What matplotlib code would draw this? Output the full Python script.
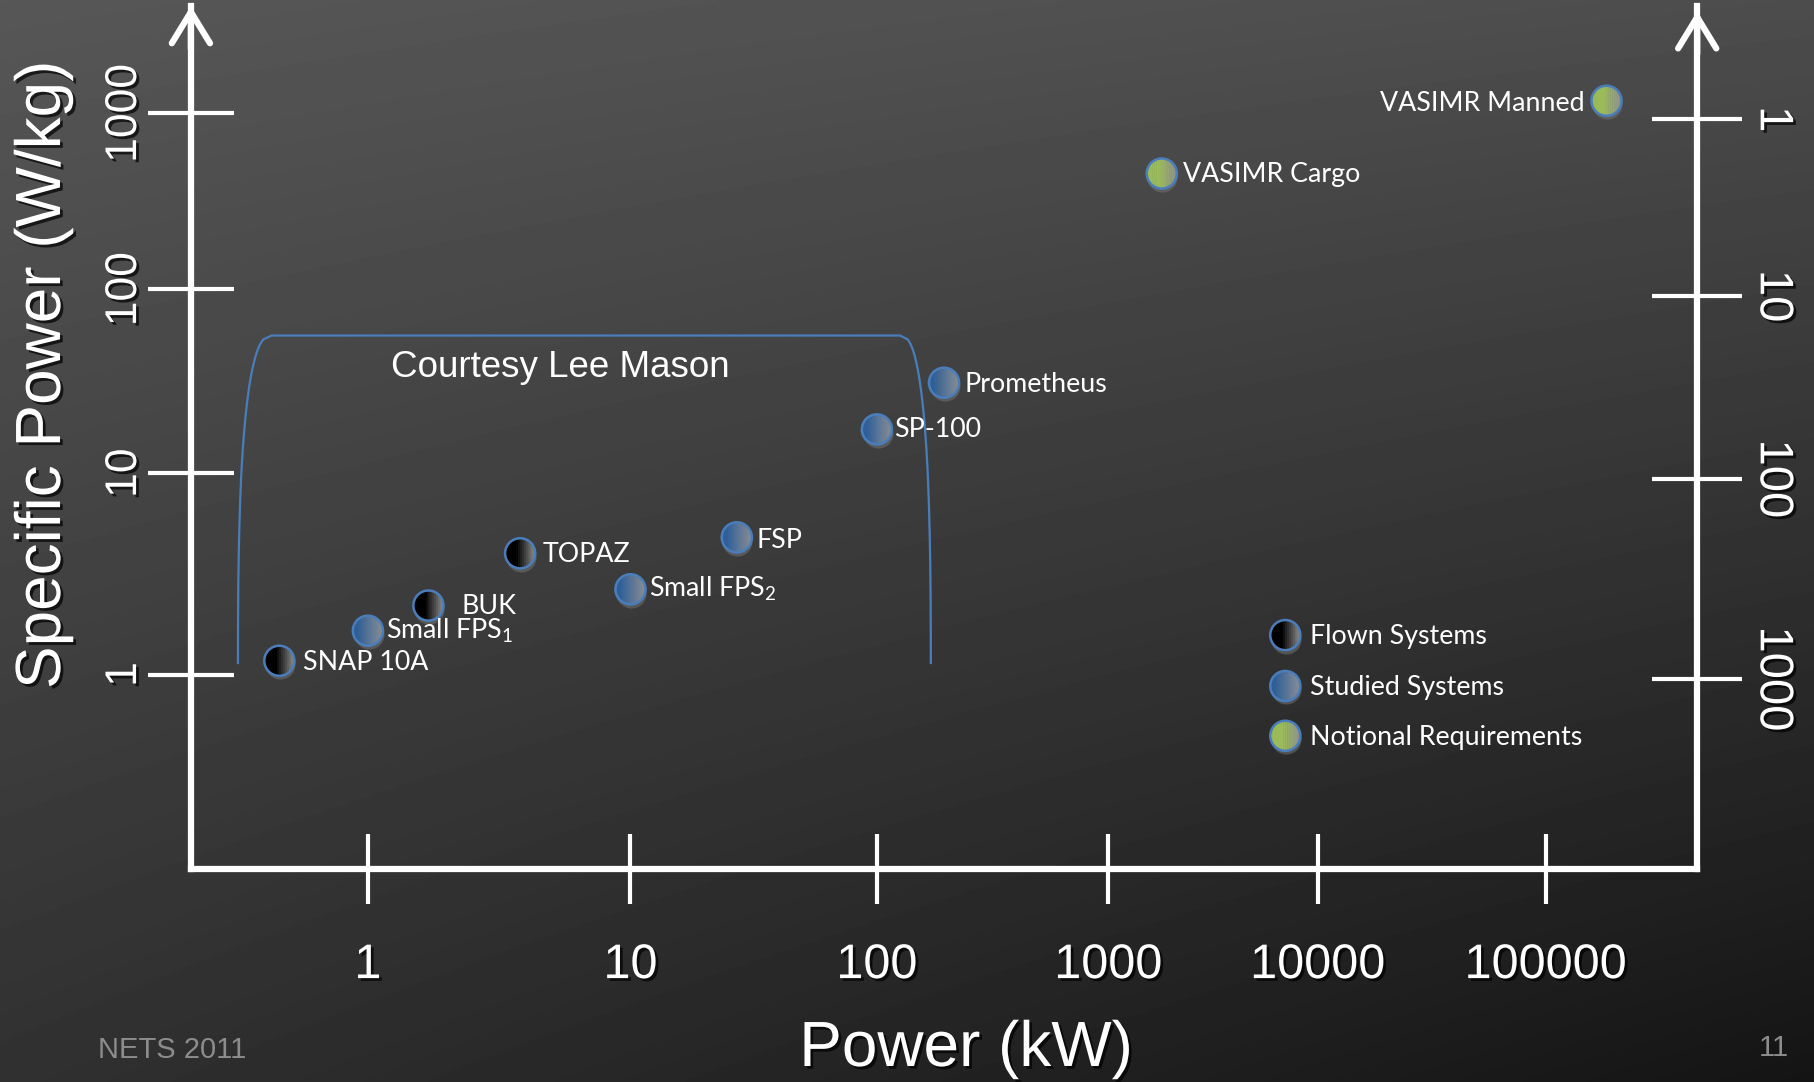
import numpy as np
import matplotlib
matplotlib.use('Agg')
import matplotlib.pyplot as plt
import matplotlib.patheffects as pe
from matplotlib.path import Path
from matplotlib.collections import PathCollection
from matplotlib.transforms import ScaledTranslation, IdentityTransform
from matplotlib.ticker import NullLocator
from matplotlib.colors import to_rgb

plt.rcParams['font.family'] = ['Liberation Sans', 'DejaVu Sans']
plt.rcParams['mathtext.fontset'] = 'custom'
plt.rcParams['mathtext.rm'] = 'Lato'
plt.rcParams['mathtext.it'] = 'Lato:italic'
plt.rcParams['mathtext.bf'] = 'Lato:bold'

# --- data ---
systems = ['SNAP 10A', 'Small FPS$_1$', 'BUK', 'TOPAZ', 'Small FPS$_2$', 'FSP',
           'SP-100', 'Prometheus', 'VASIMR Cargo', 'VASIMR Manned']
power_kw = [0.46, 1.0, 1.7, 3.8, 10, 27, 100, 195, 1800, 185000]
specific_power = [1.17, 1.65, 2.2, 4.0, 2.65, 4.8, 17.3, 31, 455, 1180]   # W/kg
kind = ['flown', 'studied', 'flown', 'flown', 'studied', 'studied',
        'studied', 'studied', 'notional', 'notional']

x_ticks = [1, 10, 100, 1000, 10000, 100000]
y_ticks = [1, 10, 100, 1000]
mass_ticks = [1, 10, 100, 1000]   # kg/kW, right hand axis

legend_kinds = ['flown', 'studied', 'notional']
legend_labels = ['Flown Systems', 'Studied Systems', 'Notional Requirements']

# outline "Courtesy Lee Mason" (kW at the foot / at the top corners, W/kg bottom/top)
box_foot_kw = (0.32, 171)
box_top_kw = (0.43, 126)
box_wkg = (1.14, 56)

# --- layout (figure pixels) ---
W, H = 1814, 1082
# the slide is hand drawn: decades are not evenly spaced, so follow the drawn ticks
x_knots = [367.9, 630.5, 876.9, 1108.3, 1317.7, 1545.6]
yl_knots = [H - 674.5, H - 473.2, H - 289.2, H - 113.4]
yr_knots = [H - 679.1, H - 479.0, H - 296.2, H - 119.2]
left, right, bottom, top = 190.9, 1697.2, 868.8, 6


def decade_scale(px):
    d = np.arange(len(px), dtype=float)
    p = np.asarray(px, float)
    d = np.r_[d[0] - 10, d, d[-1] + 10]
    p = np.r_[p[0] - 10 * (p[1] - p[0]), p, p[-1] + 10 * (p[-1] - p[-2])]
    fwd = lambda v: np.interp(np.log10(np.clip(v, 1e-12, None)), d, p)
    inv = lambda q: 10 ** np.interp(q, p, d)
    return fwd, inv


fig = plt.figure(figsize=(W / 100, H / 100), dpi=100)

# background gradient
bg = fig.add_axes([0, 0, 1, 1], zorder=-1)
yy, xx = np.mgrid[0:1:300j, 0:1:500j]
shade = 0.34 - 0.15 * yy - 0.04 * xx - 0.07 * xx * yy
bg.imshow(shade, cmap='gray', vmin=0, vmax=1, aspect='auto', interpolation='bilinear')
bg.set_axis_off()

ax = fig.add_axes([left / W, 1 - bottom / H, (right - left) / W, (bottom - top) / H])
ax.patch.set_visible(False)

xf, xi = decade_scale(x_knots)
ylf, yli = decade_scale(yl_knots)
yrf, yri = decade_scale(yr_knots)
ax.set_xscale('function', functions=(xf, xi))
ax.set_yscale('function', functions=(ylf, yli))
ax.set_xlim(xi(left), xi(right))
ax.set_ylim(yli(H - bottom), yli(H - top))

shadow_txt = [pe.withSimplePatchShadow(offset=(2, -2), shadow_rgbFace='black', alpha=0.7)]
narrow = ['Liberation Sans Narrow', 'Liberation Sans']

for s in ['top', 'right']:
    ax.spines[s].set_visible(False)
for s in ['left', 'bottom']:
    ax.spines[s].set_color('white')
    ax.spines[s].set_linewidth(4.5)
    ax.spines[s].set_capstyle('projecting')

ax.set_xticks(x_ticks, [str(v) for v in x_ticks], fontfamily=narrow, fontsize=35,
              path_effects=shadow_txt)
ax.set_yticks(y_ticks, [str(v) for v in y_ticks], fontfamily=narrow, fontsize=32,
              rotation=90, va='center', path_effects=shadow_txt)
ax.xaxis.set_minor_locator(NullLocator())
ax.yaxis.set_minor_locator(NullLocator())
ax.tick_params(axis='x', direction='inout', length=51, width=3, color='white',
               labelcolor='white', pad=28)
ax.tick_params(axis='y', direction='inout', length=62, width=3, color='white',
               labelcolor='white', pad=2)

tw = ax.twinx()
tw.set_yscale('function', functions=(yrf, yri))
tw.set_ylim(yri(H - bottom), yri(H - top))
for s in ['top', 'left', 'bottom']:
    tw.spines[s].set_visible(False)
tw.spines['right'].set_color('white')
tw.spines['right'].set_linewidth(4.5)
tw.spines['right'].set_capstyle('projecting')
tw.set_yticks(1000 / np.array(mass_ticks, float), [str(m) for m in mass_ticks],
              fontfamily=narrow, fontsize=34, rotation=-90, va='center',
              path_effects=shadow_txt)
tw.yaxis.set_minor_locator(NullLocator())
tw.tick_params(axis='y', direction='inout', length=65, width=3, color='white',
               labelcolor='white', pad=6)

# arrow heads on the vertical axes
for a, xpos, ytip in [(ax, 0, 1.0), (tw, 1, 0.994)]:
    a.annotate('', xy=(xpos, ytip), xytext=(xpos, ytip - 0.05), xycoords='axes fraction',
               annotation_clip=False,
               arrowprops=dict(arrowstyle='->,head_length=0.9,head_width=0.55',
                               color='white', lw=4.5, mutation_scale=25,
                               shrinkA=0, shrinkB=0))

# blue outline
h = np.linspace(0, 1, 80)
dx = 1 - (1 - h ** 2.5) ** (1 / 2.5)
ly = np.log10(box_wkg[0]) + h * (np.log10(box_wkg[1]) - np.log10(box_wkg[0]))
lx = np.log10(box_foot_kw[0]) + (np.log10(box_top_kw[0]) - np.log10(box_foot_kw[0])) * dx
rx = np.log10(box_foot_kw[1]) - (np.log10(box_foot_kw[1]) - np.log10(box_top_kw[1])) * dx
ox = np.r_[lx, rx[::-1]]
oy = np.r_[ly, ly[::-1]]
ax.plot(10 ** ox, 10 ** oy, color='#4a7ebb', lw=1.6, zorder=2)
ax.text(0.245, 0.581, 'Courtesy Lee Mason', transform=ax.transAxes, color='white',
        fontsize=26.5, ha='center', va='center')

# gradient filled markers
RIM = '#4a7ebb'
MS = 470
fills = {'flown': ('#000000', '#909090', -0.1),
         'studied': ('#2f5f98', '#8a8f96', -0.35),
         'notional': ('#9bbb59', '#8f8f8f', -0.1)}

n_strip = 16
edges = np.linspace(-0.5, 0.5, n_strip + 1)
strip_paths = []
for a, b in zip(edges[:-1], edges[1:]):
    xs = np.linspace(a, min(b + 0.015, 0.5), 10)
    ys = np.sqrt(np.clip(0.25 - xs ** 2, 0, None))
    strip_paths.append(Path(np.r_[np.c_[xs, ys], np.c_[xs[::-1], -ys[::-1]]]))
strip_mid = (edges[:-1] + edges[1:]) / 2


def mix(k, t):
    c0, c1, start = fills[k]
    w = np.clip((t - start) / (0.5 - start), 0, 1)
    return tuple((1 - w) * np.array(to_rgb(c0)) + w * np.array(to_rgb(c1)))


def draw_markers(x, y, kinds, trans):
    xy = np.c_[x, y]
    sh = trans + ScaledTranslation(0.5 / 72, -2.5 / 72, fig.dpi_scale_trans)
    ax.scatter(x, y, s=MS, color='#727272', alpha=0.55, linewidths=0, transform=sh, zorder=3)
    for path, t in zip(strip_paths, strip_mid):
        pc = PathCollection([path], sizes=[MS], offsets=xy, offset_transform=trans,
                            transform=IdentityTransform(),
                            facecolors=[mix(k, t) for k in kinds], edgecolors='none', zorder=4)
        ax.add_collection(pc, autolim=False)
    ax.scatter(x, y, s=MS, facecolors='none', edgecolors=RIM, linewidths=1.8,
               transform=trans, zorder=5)


draw_markers(power_kw, specific_power, kind, ax.transData)

label_offsets = [(17, -1), (13, 0), (24, -1), (16, -1), (13, 0), (14, -2),
                 (12, 0), (15, -1), (15, -1), (-16, -2)]
for name, x, y, off in zip(systems, power_kw, specific_power, label_offsets):
    ax.annotate(name, (x, y), xytext=off, textcoords='offset points',
                ha='left' if off[0] > 0 else 'right', va='center',
                color='white', fontsize=19.3, family='Lato', zorder=6)

# legend
leg_x = (1285.3 - left) / (right - left)
leg_y = [(bottom - v) / (bottom - top) for v in [635.1, 686.0, 735.8]]
draw_markers([leg_x] * 3, leg_y, legend_kinds, ax.transAxes)
for lab, yv in zip(legend_labels, leg_y):
    ax.annotate(lab, (leg_x, yv), xycoords='axes fraction', xytext=(18, -1),
                textcoords='offset points', va='center', color='white',
                fontsize=19.3, family='Lato')

fig.text(966 / W, 1 - 1049 / H, 'Power (kW)', fontsize=46, color='white',
         ha='center', va='center', path_effects=shadow_txt)
fig.text(43 / W, 1 - 375 / H, 'Specific Power (W/kg)', fontsize=46, color='white',
         rotation=90, ha='center', va='center', path_effects=shadow_txt)
fig.text(98 / W, 1 - 1050 / H, 'NETS 2011', fontsize=21, color='#8c8c8c',
         ha='left', va='center')
fig.text(1774 / W, 1 - 1048 / H, '11', fontsize=21, color='#8c8c8c',
         ha='center', va='center')

fig.savefig('out.png', dpi=100)
